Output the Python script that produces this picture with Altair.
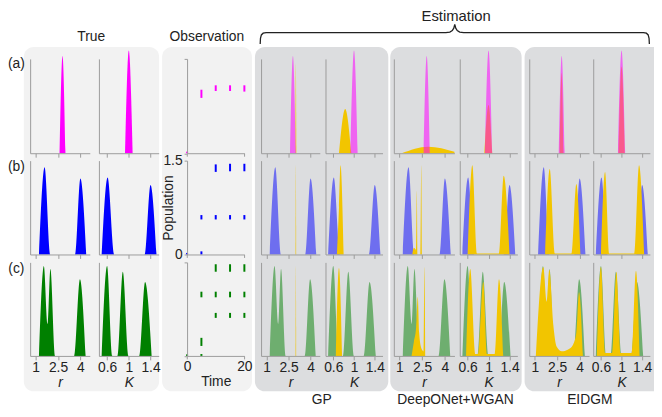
import altair as alt
import pandas as pd

# ---------------- axis values / domains ----------------
R_TICKS = [1, 2.5, 4]
K_TICKS = [0.6, 1, 1.4]
R_DOMAIN = [0.63, 4.63]
K_DOMAIN = [0.45, 1.55]
DENS_DOMAIN = [0, 1]
TIME_TICKS = [0, 20]
TIME_DOMAIN = [0, 20]
POP_TICKS = [0, 1.5]
POP_DOMAIN = [0, 1.5]

ROW_LABELS = ["(a)", "(b)", "(c)"]
GROUP_TITLES = ["True", "Observation"]
METHODS = ["GP", "DeepONet+WGAN", "EIDGM"]

# ---------------- true densities (parameter value, relative density) ----------------
TRUE_A_R_X = [2.6, 2.8, 3.0]
TRUE_A_R_Y = [0, 1.03, 0]
TRUE_A_K_X = [0.93, 1.0, 1.07]
TRUE_A_K_Y = [0, 1.09, 0]
TRUE_B_R_X = [1.22, 1.6, 1.99, 3.64, 4.0, 4.39]
TRUE_B_R_Y = [0, 0.93, 0, 0, 0.81, 0]
TRUE_B_K_X = [0.5, 0.61, 0.73, 1.29, 1.4, 1.51]
TRUE_B_K_Y = [0, 0.82, 0, 0, 0.74, 0]
TRUE_C_R_X = [1.22, 1.55, 1.8, 1.99, 2.32, 3.6, 3.97, 4.35]
TRUE_C_R_Y = [0, 0.96, 0.34, 0.93, 0, 0, 0.82, 0]
TRUE_C_K_X = [0.5, 0.6, 0.7, 0.79, 0.89, 1.0, 1.19, 1.3, 1.42]
TRUE_C_K_Y = [0, 0.96, 0, 0, 0.9, 0, 0, 0.79, 0]

# ---------------- GP estimates ----------------
GP_A_R_X = [2.97, 3.0, 3.03]
GP_A_R_Y = [0, 0.95, 0]
GP_A_K_X = [0.71, 0.83, 0.95]
GP_A_K_Y = [0, 0.47, 0]
GP_B_R_X = [2.98, 3.0, 3.02]
GP_B_R_Y = [0, 0.95, 0]
GP_B_K_X = [0.67, 0.71, 0.74, 0.8]
GP_B_K_Y = [0, 0.5, 0.95, 0]
GP_C_R_X = [2.98, 3.0, 3.02]
GP_C_R_Y = [0, 0.96, 0]
GP_C_K_X = [0.65, 0.71, 0.77]
GP_C_K_Y = [0, 0.94, 0]

# ---------------- DeepONet+WGAN estimates ----------------
DON_A_R_X = [1.15, 2.9, 4.63]
DON_A_R_Y = [0, 0.07, 0.017]
DON_A_K_X = [0.92, 1.0, 1.07]
DON_A_K_Y = [0, 0.51, 0]
DON_B_R_X = [1.85, 1.95, 2.08, 2.11, 2.15, 2.19, 2.4, 2.44, 2.48]
DON_B_R_Y = [0, 0.07, 0.05, 0.02, 0.68, 0, 0, 0.95, 0]
DON_B_K_X = [0.6, 0.69, 0.78, 1.2, 1.29, 1.4]
DON_B_K_Y = [0, 0.95, 0.01, 0.01, 0.84, 0]
DON_C_R_X = [1.8, 1.95, 2.1, 2.21, 2.3, 2.45, 2.6, 2.65, 2.7]
DON_C_R_Y = [0, 0.15, 0.3, 0.63, 0.25, 0.08, 0.05, 0.95, 0]
DON_C_K_X = [0.57, 0.65, 0.75, 0.8, 0.9, 0.97, 1.12, 1.2, 1.28]
DON_C_K_Y = [0, 0.93, 0.02, 0.02, 0.79, 0.02, 0.02, 0.82, 0]

# ---------------- EIDGM estimates ----------------
EI_A_R_X = [2.66, 2.79, 2.92]
EI_A_R_Y = [0, 0.85, 0]
EI_A_K_X = [0.94, 1.0, 1.06]
EI_A_K_Y = [0, 0.92, 0]
EI_B_R_X = [1.69, 2.0, 2.35, 3.45, 3.78, 4.05]
EI_B_R_Y = [0, 0.91, 0.01, 0.01, 0.75, 0]
EI_B_K_X = [0.6, 0.68, 0.76, 1.25, 1.34, 1.44]
EI_B_K_Y = [0, 0.88, 0.01, 0.01, 0.95, 0]
EI_C_R_X = [1.07, 1.57, 1.8, 1.97, 2.24, 2.46, 2.8, 3.23, 3.56, 3.78, 3.96, 4.22]
EI_C_R_Y = [0, 0.95, 0.58, 0.92, 0.33, 0.1, 0.05, 0.07, 0.12, 0.25, 0.68, 0]
EI_C_K_X = [0.52, 0.6, 0.68, 0.82, 0.9, 0.98, 1.2, 1.28, 1.35]
EI_C_K_Y = [0, 0.95, 0.03, 0.03, 0.9, 0.03, 0.03, 0.91, 0]

# ---------------- observations (time, low, high) ----------------
OBS_A_T = [0, 5, 10, 15, 20]
OBS_A_LO = [0, 0.88, 0.99, 0.99, 0.98]
OBS_A_HI = [0.025, 1.01, 1.08, 1.08, 1.08]
OBS_B_T = [0, 5, 5, 10, 10, 15, 15, 20, 20]
OBS_B_LO = [0, 0, 0.56, 1.32, 0.56, 1.33, 0.56, 1.33, 0.56]
OBS_B_HI = [0.025, 0.05, 0.63, 1.44, 0.63, 1.45, 0.63, 1.45, 0.63]
OBS_C_T = [0, 5, 5, 5, 10, 10, 10, 15, 15, 15, 20, 20, 20]
OBS_C_LO = [0, 0, 0.16, 0.94, 1.35, 0.94, 0.61, 1.35, 0.94, 0.61, 1.35, 0.94, 0.61]
OBS_C_HI = [0.025, 0.03, 0.29, 1.03, 1.47, 1.03, 0.69, 1.47, 1.03, 0.69, 1.47, 1.03, 0.69]

# brace outline (pixel offsets along / above the brace line)
BRACE_X = [0, 0.3, 1.2, 3, 6, 188, 192, 194.5, 196, 197, 198, 199.5, 202, 206, 388, 391, 392.8, 393.7, 394]
BRACE_Y = [-12, -6, -2.5, -0.7, 0, 0, 0.5, 2, 4.5, 8.5, 4.5, 2, 0.5, 0, 0, -0.7, -2.5, -6, -12]

# ---------------- style / layout ----------------
FONT = "Liberation Sans"
TXT = "#222222"
AXC = "#9b9b9b"
MAGENTA, BLUE, GREEN, GOLD = "#FF00FF", "#0000FF", "#008000", "#F2C500"
ROW_COLORS = [MAGENTA, BLUE, GREEN]
BG_LIGHT, BG_DARK = "#F2F2F2", "#DCDDDF"

W, H = 654, 409


def px(v):
    return v - 8


ROW_PX = [(152.5, 57.0), (255.0, 160.0), (357.7, 263.0)]  # baseline, top (page px)
DENS_COLS = {
    "True": ((36.0, 81.3), (108.3, 152.3)),
    "GP": ((269.7, 314.3), (337.3, 379.3)),
    "DeepONet+WGAN": ((404.3, 450.3), (473.3, 515.7)),
    "EIDGM": ((541.3, 586.7), (608.3, 650.0)),
}
OBS_COL = (189.3, 247.3)

AX = dict(grid=False, domainColor=AXC, tickColor=AXC, labelColor=TXT, labelFont=FONT,
          labelFontSize=14, titleFont=FONT, titleFontSize=14, titleFontWeight="normal",
          titleColor=TXT, labelFlush=False, labelOverlap=False, zindex=1)


def lin_range(domain, v0, v1, p0, p1):
    s = (p1 - p0) / (v1 - v0)
    return [px(p0 + (domain[0] - v0) * s), px(p0 + (domain[1] - v0) * s)]


def xaxis(values, row, title, italic=True, tick=4):
    kw = dict(AX)
    kw.update(orient="bottom", offset=px(ROW_PX[row][0]) - H, values=values, format=".2~f",
              tickSize=tick, labelPadding=1)
    if row == 2:
        kw.update(labels=True, title=title, titlePadding=1,
                  titleFontStyle="italic" if italic else "normal")
    else:
        kw.update(labels=False, title=None)
    return alt.Axis(**kw)


def dens(xs, ys, param, col, row, color, opacity, with_axes):
    dom = R_DOMAIN if param == "r" else K_DOMAIN
    p0, p1 = DENS_COLS[col][0 if param == "r" else 1]
    v0, v1 = (R_TICKS[0], R_TICKS[-1]) if param == "r" else (K_TICKS[0], K_TICKS[-1])
    xr = lin_range(dom, v0, v1, p0, p1)
    base, top = ROW_PX[row]
    df = pd.DataFrame({"v": xs, "d": ys})
    xsc = alt.Scale(domain=dom, range=xr, nice=False, zero=False)
    ysc = alt.Scale(domain=DENS_DOMAIN, range=[px(base), px(top)], nice=False, zero=False)
    if with_axes:
        xa = xaxis(R_TICKS if param == "r" else K_TICKS, row, param)
        ya = alt.Axis(orient="left", offset=-xr[0], ticks=False, labels=False, title=None,
                      grid=False, domainColor=AXC, zindex=1)
        x = alt.X("v:Q", scale=xsc, axis=xa)
        y = alt.Y("d:Q", scale=ysc, axis=ya, stack=None)
    else:
        x = alt.X("v:Q", scale=xsc, axis=None)
        y = alt.Y("d:Q", scale=ysc, axis=None, stack=None)
    return alt.Chart(df).mark_area(color=color, opacity=opacity, interpolate="monotone").encode(x=x, y=y)


def obs(ts, lo, hi, row, color):
    df = pd.DataFrame({"t": ts, "lo": lo, "hi": hi})
    xr = [px(OBS_COL[0]), px(OBS_COL[1])]
    base, top = ROW_PX[row]
    ykw = dict(AX)
    ykw.update(orient="left", offset=-xr[0], values=POP_TICKS, format=".1~f", tickSize=3,
               labelPadding=2)
    if row == 1:
        ykw.update(labels=True, title="Population", titleX=-19, titleBaseline="middle")
    else:
        ykw.update(labels=False, title=None)
    return alt.Chart(df).mark_rule(color=color, strokeWidth=2).encode(
        x=alt.X("t:Q", scale=alt.Scale(domain=TIME_DOMAIN, range=xr, nice=False, zero=False),
                axis=xaxis(TIME_TICKS, row, "Time", italic=False, tick=3)),
        y=alt.Y("lo:Q", scale=alt.Scale(domain=POP_DOMAIN, range=[px(base), px(top)], nice=False, zero=False),
                axis=alt.Axis(**ykw)),
        y2="hi:Q",
    )


ONE = pd.DataFrame({"k": [0]})


def bg(x0, x1, color):
    return alt.Chart(ONE).mark_rect(color=color, cornerRadius=10).encode(
        x=alt.value(px(x0)), x2=alt.value(px(x1)), y=alt.value(px(45)), y2=alt.value(px(393.5)))


def label(text, x, y, size=14):
    return alt.Chart(ONE).mark_text(text=text, font=FONT, fontSize=size, color=TXT,
                                    align="center", baseline="middle").encode(
        x=alt.value(px(x)), y=alt.value(px(y)))


layers = [
    bg(24, 161, BG_LIGHT), bg(164, 255, BG_LIGHT), bg(258, 393, BG_DARK),
    bg(395, 528, BG_DARK), bg(531, 672, BG_DARK),
]

TRUE_CURVES = [
    [(TRUE_A_R_X, TRUE_A_R_Y), (TRUE_A_K_X, TRUE_A_K_Y)],
    [(TRUE_B_R_X, TRUE_B_R_Y), (TRUE_B_K_X, TRUE_B_K_Y)],
    [(TRUE_C_R_X, TRUE_C_R_Y), (TRUE_C_K_X, TRUE_C_K_Y)],
]
EST_CURVES = {
    "GP": [[(GP_A_R_X, GP_A_R_Y), (GP_A_K_X, GP_A_K_Y)],
           [(GP_B_R_X, GP_B_R_Y), (GP_B_K_X, GP_B_K_Y)],
           [(GP_C_R_X, GP_C_R_Y), (GP_C_K_X, GP_C_K_Y)]],
    "DeepONet+WGAN": [[(DON_A_R_X, DON_A_R_Y), (DON_A_K_X, DON_A_K_Y)],
                      [(DON_B_R_X, DON_B_R_Y), (DON_B_K_X, DON_B_K_Y)],
                      [(DON_C_R_X, DON_C_R_Y), (DON_C_K_X, DON_C_K_Y)]],
    "EIDGM": [[(EI_A_R_X, EI_A_R_Y), (EI_A_K_X, EI_A_K_Y)],
              [(EI_B_R_X, EI_B_R_Y), (EI_B_K_X, EI_B_K_Y)],
              [(EI_C_R_X, EI_C_R_Y), (EI_C_K_X, EI_C_K_Y)]],
}

for row in range(3):
    for j, param in enumerate(["r", "K"]):
        xs, ys = TRUE_CURVES[row][j]
        layers.append(dens(xs, ys, param, "True", row, ROW_COLORS[row], 1.0, True))

for row, (t, lo, hi) in enumerate([(OBS_A_T, OBS_A_LO, OBS_A_HI),
                                   (OBS_B_T, OBS_B_LO, OBS_B_HI),
                                   (OBS_C_T, OBS_C_LO, OBS_C_HI)]):
    layers.append(obs(t, lo, hi, row, ROW_COLORS[row]))

for m in METHODS:
    for row in range(3):
        for j, param in enumerate(["r", "K"]):
            txs, tys = TRUE_CURVES[row][j]
            exs, eys = EST_CURVES[m][row][j]
            if row == 0:
                layers.append(dens(exs, eys, param, m, row, GOLD, 1.0, False))
                layers.append(dens(txs, tys, param, m, row, ROW_COLORS[row], 0.55, True))
            else:
                layers.append(dens(txs, tys, param, m, row, ROW_COLORS[row], 0.5, True))
                layers.append(dens(exs, eys, param, m, row, GOLD, 1.0, False))

brace = alt.Chart(pd.DataFrame({"bx": BRACE_X, "by": BRACE_Y})).mark_line(
    color=TXT, strokeWidth=1.3).encode(
    x=alt.X("bx:Q", scale=alt.Scale(domain=[0, 394], range=[px(263.3), px(657.3)], nice=False, zero=False), axis=None),
    y=alt.Y("by:Q", scale=alt.Scale(domain=[-12, 8.5], range=[px(42.0), px(22.0)], nice=False, zero=False), axis=None),
)
layers.append(brace)

layers += [
    label("True", 92.3, 35), label("Observation", 209.3, 35), label("Estimation", 461.7, 13.5, 15),
    label("(a)", 16.5, 62), label("(b)", 16.5, 166.5), label("(c)", 16.5, 270),
    label("GP", 325.5, 402.5), label("DeepONet+WGAN", 461, 402.5), label("EIDGM", 597, 402.5),
]

chart = alt.layer(*layers).resolve_scale(x="independent", y="independent").properties(
    width=W, height=H, padding=0, autosize=alt.AutoSizeParams(type="none"), background="white"
).configure_view(strokeWidth=0)

chart.save("out.html", embed_options={"renderer": "svg", "actions": False})
